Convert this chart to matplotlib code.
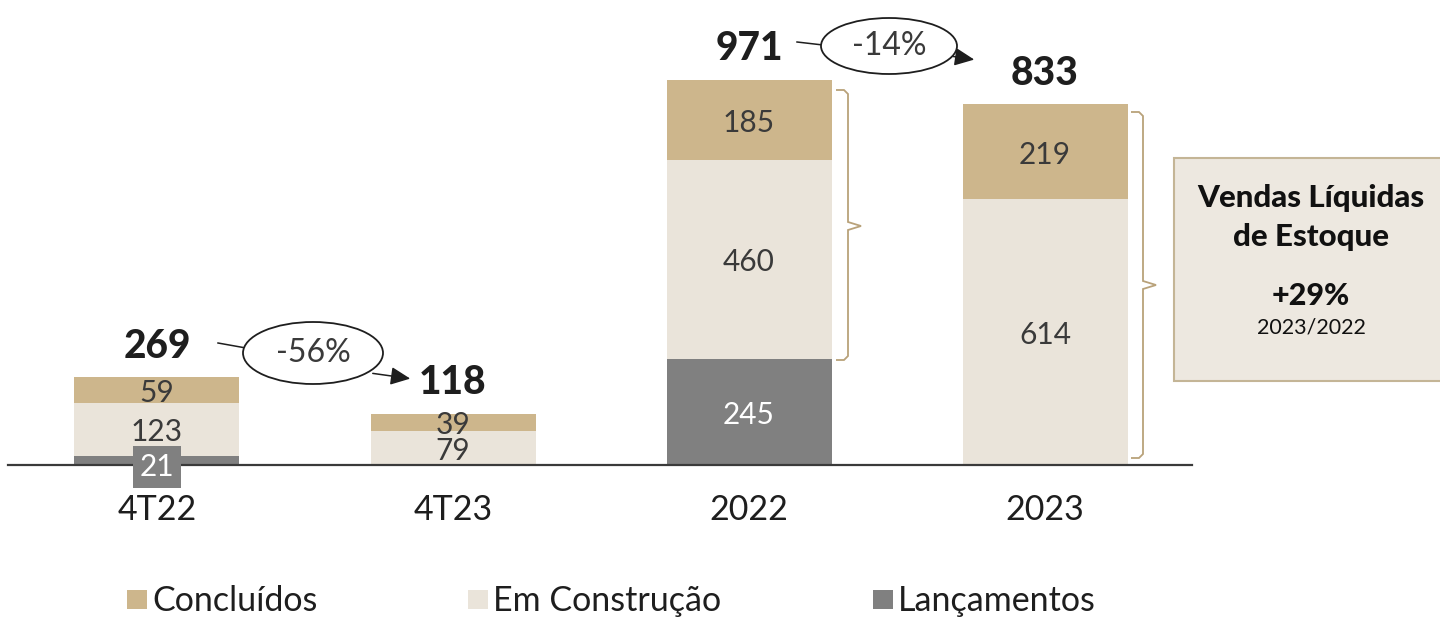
import matplotlib
matplotlib.use("Agg")
import matplotlib.pyplot as plt
from matplotlib.patches import Ellipse, Rectangle, PathPatch
from matplotlib.path import Path

# ---------------- data ----------------
categories = ["4T22", "4T23", "2022", "2023"]
lancamentos = [21, 0, 245, 0]
em_construcao = [123, 79, 460, 614]
concluidos = [59, 39, 185, 219]
totals = ["269", "118", "971", "833"]
variations = ["-56%", "-14%"]
series_names = ["Concluídos", "Em Construção", "Lançamentos"]
box_value = "+29%"
box_period = "2023/2022"

# ---------------- style ----------------
C_CONC = "#CDB68C"
C_CONS = "#EAE4DA"
C_LANC = "#808080"
TXT = "#3a3a3a"
FONT = "Lato"
plt.rcParams["font.family"] = [FONT, "DejaVu Sans"]

W, H, DPI = 1440, 617, 100
fig = plt.figure(figsize=(W / DPI, H / DPI), dpi=DPI)
ax = fig.add_axes([0, 0, 1, 1])
ax.set_axis_off()

# pixel mapping helpers (layout only)
X0, DX = 157, 296          # bar centre px of first bar, spacing px
Y0, SY = 465, 0.433        # baseline px, px per unit
def px2x(px): return (px - X0) / DX
def px2y(py): return (Y0 - py) / SY

ax.set_xlim(px2x(0), px2x(W))
ax.set_ylim(px2y(H), px2y(0))

xs = list(range(len(categories)))
bw = 165 / DX

ax.bar(xs, lancamentos, bw, color=C_LANC, zorder=2)
ax.bar(xs, em_construcao, bw, bottom=lancamentos, color=C_CONS, zorder=2)
bottom3 = [a + b for a, b in zip(lancamentos, em_construcao)]
ax.bar(xs, concluidos, bw, bottom=bottom3, color=C_CONC, zorder=2)

# baseline
ax.plot([px2x(8), px2x(1192)], [0, 0], color="#3a3a3a", lw=1.6, zorder=3)

VFS = 21.5
def seg_label(x, y, s, color):
    ax.annotate(s, (x, y), xytext=(0, -3), textcoords="offset pixels",
                ha="center", va="center", fontsize=VFS, color=color, zorder=4)

for i in xs:
    v = lancamentos[i]
    if v:
        if v < 60:
            ax.text(i, px2y(467), str(v), ha="center", va="center", fontsize=VFS,
                    color="white", zorder=5,
                    bbox=dict(boxstyle="square,pad=0.22", fc=C_LANC, ec="none"))
        else:
            seg_label(i, v / 2, str(v), "white")
    v = em_construcao[i]
    seg_label(i, lancamentos[i] + v / 2, str(v), TXT)
    v = concluidos[i]
    seg_label(i, bottom3[i] + v / 2, str(v), TXT)
    top = bottom3[i] + concluidos[i]
    ax.annotate(totals[i], (i, top), xytext=(0, 31), textcoords="offset pixels",
                ha="center", va="center", fontsize=28, fontweight="black",
                color="#1e1e1e")
    ax.text(i, px2y(510), categories[i], ha="center", va="center",
            fontsize=24.5, color="#1e1e1e")

def variation(cx, cy, w, h, label, line_from, line_to, arr_from, arr_to):
    ax.add_patch(Ellipse((px2x(cx), px2y(cy)), w / DX, h / SY, fc="white",
                         ec="#1e1e1e", lw=1.3, zorder=4))
    ax.text(px2x(cx), px2y(cy), label, ha="center", va="center", fontsize=23,
            color=TXT, zorder=5)
    ax.plot([px2x(line_from[0]), px2x(line_to[0])],
            [px2y(line_from[1]), px2y(line_to[1])], color="#1e1e1e", lw=1.1, zorder=3)
    ax.annotate("", xy=(px2x(arr_to[0]), px2y(arr_to[1])),
                xytext=(px2x(arr_from[0]), px2y(arr_from[1])),
                arrowprops=dict(arrowstyle="-|>,head_length=1.2,head_width=0.55",
                                color="#1e1e1e", lw=1.1), zorder=3)

variation(313, 353, 140, 62, variations[0], (218, 343), (246, 348), (370, 373), (413, 379))
variation(889, 46, 136, 56, variations[1], (797, 42), (823, 45), (950, 56), (977, 60))

def brace(x0, xtip, ytop, ybot, ymid):
    r = 4
    verts = [(x0 - 12, ytop), (x0 - r, ytop), (x0, ytop + r), (x0, ymid - r),
             (xtip, ymid), (x0, ymid + r), (x0, ybot - r), (x0 - r, ybot), (x0 - 12, ybot)]
    v = [(px2x(a), px2y(b)) for a, b in verts]
    codes = [Path.MOVETO] + [Path.LINETO] * 8
    ax.add_patch(PathPatch(Path(v, codes), fc="none", ec="#B9A27A", lw=1.3, zorder=3))

brace(848, 861, 90, 360, 226)
brace(1143, 1156, 112, 458, 285)

# info box
ax.add_patch(Rectangle((px2x(1174), px2y(381)), 300 / DX, (381 - 158) / SY,
                       fc="#EDE8E0", ec="#C4B596", lw=1.5, zorder=2))
ax.text(px2x(1311), px2y(198), "Vendas Líquidas", ha="center", va="center",
        fontsize=22.5, fontweight="black", color="#111111", zorder=4)
ax.text(px2x(1311), px2y(237), "de Estoque", ha="center", va="center",
        fontsize=22.5, fontweight="black", color="#111111", zorder=4)
ax.text(px2x(1311), px2y(296), box_value, ha="center", va="center", fontsize=22,
        fontweight="black", color="#111111", zorder=4)
ax.text(px2x(1311), px2y(328), box_period, ha="center", va="center", fontsize=15.5,
        color="#111111", zorder=4)

leg_colors = [C_CONC, C_CONS, C_LANC]
leg_x = [127, 468, 873]
for name, col, lx in zip(series_names, leg_colors, leg_x):
    ax.add_patch(Rectangle((px2x(lx), px2y(609)), 20 / DX, 19 / SY, fc=col, ec="none"))
    ax.text(px2x(lx + 25), px2y(601), name, ha="left", va="center", fontsize=24.5,
            color="#1e1e1e")

fig.savefig("out.png", dpi=DPI)
